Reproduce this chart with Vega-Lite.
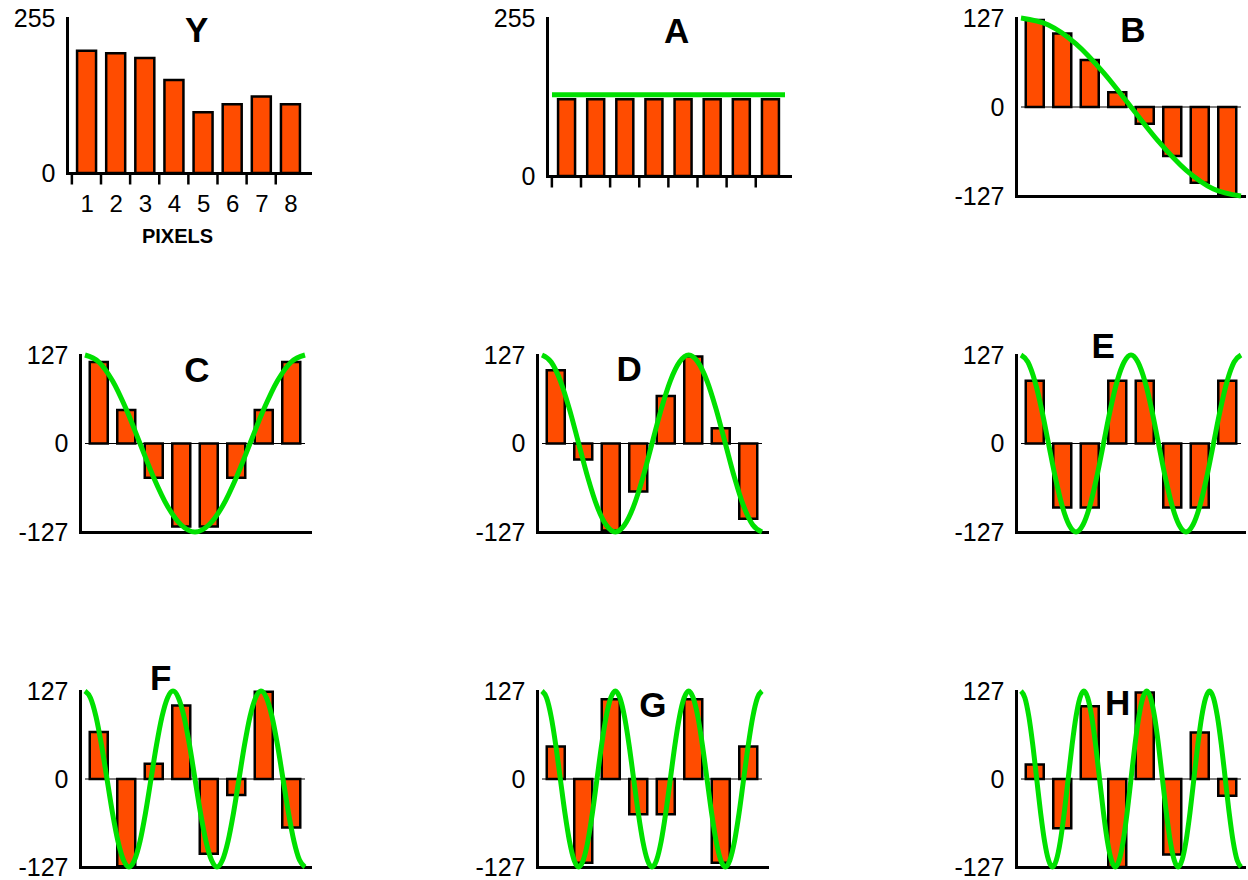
{
"$schema": "https://vega.github.io/schema/vega-lite/v6.json",
"padding": {"left": 13, "top": 6, "right": 0, "bottom": 0},
"background": "white",
"datasets": {
"bars": [
{"p":"Y","px":1,"v":201},{"p":"Y","px":2,"v":197},{"p":"Y","px":3,"v":189},{"p":"Y","px":4,"v":153},{"p":"Y","px":5,"v":100},{"p":"Y","px":6,"v":113},{"p":"Y","px":7,"v":126},{"p":"Y","px":8,"v":113},
{"p":"A","px":1,"v":124},{"p":"A","px":2,"v":124},{"p":"A","px":3,"v":124},{"p":"A","px":4,"v":124},{"p":"A","px":5,"v":124},{"p":"A","px":6,"v":124},{"p":"A","px":7,"v":124},{"p":"A","px":8,"v":124},
{"p":"B","px":1,"v":124},{"p":"B","px":2,"v":105},{"p":"B","px":3,"v":67},{"p":"B","px":4,"v":21},{"p":"B","px":5,"v":-24},{"p":"B","px":6,"v":-70},{"p":"B","px":7,"v":-108},{"p":"B","px":8,"v":-126},
{"p":"C","px":1,"v":117},{"p":"C","px":2,"v":48},{"p":"C","px":3,"v":-49},{"p":"C","px":4,"v":-119},{"p":"C","px":5,"v":-119},{"p":"C","px":6,"v":-49},{"p":"C","px":7,"v":48},{"p":"C","px":8,"v":117},
{"p":"D","px":1,"v":105},{"p":"D","px":2,"v":-23},{"p":"D","px":3,"v":-125},{"p":"D","px":4,"v":-69},{"p":"D","px":5,"v":68},{"p":"D","px":6,"v":125},{"p":"D","px":7,"v":22},{"p":"D","px":8,"v":-108},
{"p":"E","px":1,"v":90},{"p":"E","px":2,"v":-92},{"p":"E","px":3,"v":-92},{"p":"E","px":4,"v":90},{"p":"E","px":5,"v":90},{"p":"E","px":6,"v":-92},{"p":"E","px":7,"v":-92},{"p":"E","px":8,"v":90},
{"p":"F","px":1,"v":68},{"p":"F","px":2,"v":-126},{"p":"F","px":3,"v":22},{"p":"F","px":4,"v":106},{"p":"F","px":5,"v":-108},{"p":"F","px":6,"v":-23},{"p":"F","px":7,"v":126},{"p":"F","px":8,"v":-70},
{"p":"G","px":1,"v":47},{"p":"G","px":2,"v":-121},{"p":"G","px":3,"v":115},{"p":"G","px":4,"v":-51},{"p":"G","px":5,"v":-51},{"p":"G","px":6,"v":115},{"p":"G","px":7,"v":-121},{"p":"G","px":8,"v":47},
{"p":"H","px":1,"v":21},{"p":"H","px":2,"v":-71},{"p":"H","px":3,"v":105},{"p":"H","px":4,"v":-127},{"p":"H","px":5,"v":125},{"p":"H","px":6,"v":-109},{"p":"H","px":7,"v":67},{"p":"H","px":8,"v":-24}
],
"curves": [
{"p":"A","x":0.5,"y":131},{"p":"A","x":8.5,"y":131},
{"p":"B","x":0.5,"y":127},{"p":"B","x":1.5,"y":117},{"p":"B","x":2.5,"y":90},{"p":"B","x":3.5,"y":49},{"p":"B","x":4.5,"y":0},{"p":"B","x":5.5,"y":-49},{"p":"B","x":6.5,"y":-90},{"p":"B","x":7.5,"y":-117},{"p":"B","x":8.5,"y":-127},
{"p":"C","x":0.5,"y":127},{"p":"C","x":1,"y":117},{"p":"C","x":1.5,"y":90},{"p":"C","x":2,"y":49},{"p":"C","x":2.5,"y":0},{"p":"C","x":3,"y":-49},{"p":"C","x":3.5,"y":-90},{"p":"C","x":4,"y":-117},{"p":"C","x":4.5,"y":-127},{"p":"C","x":5,"y":-117},{"p":"C","x":5.5,"y":-90},{"p":"C","x":6,"y":-49},{"p":"C","x":6.5,"y":0},{"p":"C","x":7,"y":49},{"p":"C","x":7.5,"y":90},{"p":"C","x":8,"y":117},{"p":"C","x":8.5,"y":127},
{"p":"D","x":0.5,"y":127},{"p":"D","x":0.833,"y":117},{"p":"D","x":1.167,"y":90},{"p":"D","x":1.5,"y":49},{"p":"D","x":1.833,"y":0},{"p":"D","x":2.167,"y":-49},{"p":"D","x":2.5,"y":-90},{"p":"D","x":2.833,"y":-117},{"p":"D","x":3.167,"y":-127},{"p":"D","x":3.5,"y":-117},{"p":"D","x":3.833,"y":-90},{"p":"D","x":4.167,"y":-49},{"p":"D","x":4.5,"y":0},{"p":"D","x":4.833,"y":49},{"p":"D","x":5.167,"y":90},{"p":"D","x":5.5,"y":117},{"p":"D","x":5.833,"y":127},{"p":"D","x":6.167,"y":117},{"p":"D","x":6.5,"y":90},{"p":"D","x":6.833,"y":49},{"p":"D","x":7.167,"y":0},{"p":"D","x":7.5,"y":-49},{"p":"D","x":7.833,"y":-90},{"p":"D","x":8.167,"y":-117},{"p":"D","x":8.5,"y":-127},
{"p":"E","x":0.5,"y":127},{"p":"E","x":0.75,"y":117},{"p":"E","x":1,"y":90},{"p":"E","x":1.25,"y":49},{"p":"E","x":1.5,"y":0},{"p":"E","x":1.75,"y":-49},{"p":"E","x":2,"y":-90},{"p":"E","x":2.25,"y":-117},{"p":"E","x":2.5,"y":-127},{"p":"E","x":2.75,"y":-117},{"p":"E","x":3,"y":-90},{"p":"E","x":3.25,"y":-49},{"p":"E","x":3.5,"y":0},{"p":"E","x":3.75,"y":49},{"p":"E","x":4,"y":90},{"p":"E","x":4.25,"y":117},{"p":"E","x":4.5,"y":127},{"p":"E","x":4.75,"y":117},{"p":"E","x":5,"y":90},{"p":"E","x":5.25,"y":49},{"p":"E","x":5.5,"y":0},{"p":"E","x":5.75,"y":-49},{"p":"E","x":6,"y":-90},{"p":"E","x":6.25,"y":-117},{"p":"E","x":6.5,"y":-127},{"p":"E","x":6.75,"y":-117},{"p":"E","x":7,"y":-90},{"p":"E","x":7.25,"y":-49},{"p":"E","x":7.5,"y":0},{"p":"E","x":7.75,"y":49},{"p":"E","x":8,"y":90},{"p":"E","x":8.25,"y":117},{"p":"E","x":8.5,"y":127},
{"p":"F","x":0.5,"y":127},{"p":"F","x":0.7,"y":117},{"p":"F","x":0.9,"y":90},{"p":"F","x":1.1,"y":49},{"p":"F","x":1.3,"y":0},{"p":"F","x":1.5,"y":-49},{"p":"F","x":1.7,"y":-90},{"p":"F","x":1.9,"y":-117},{"p":"F","x":2.1,"y":-127},{"p":"F","x":2.3,"y":-117},{"p":"F","x":2.5,"y":-90},{"p":"F","x":2.7,"y":-49},{"p":"F","x":2.9,"y":0},{"p":"F","x":3.1,"y":49},{"p":"F","x":3.3,"y":90},{"p":"F","x":3.5,"y":117},{"p":"F","x":3.7,"y":127},{"p":"F","x":3.9,"y":117},{"p":"F","x":4.1,"y":90},{"p":"F","x":4.3,"y":49},{"p":"F","x":4.5,"y":0},{"p":"F","x":4.7,"y":-49},{"p":"F","x":4.9,"y":-90},{"p":"F","x":5.1,"y":-117},{"p":"F","x":5.3,"y":-127},{"p":"F","x":5.5,"y":-117},{"p":"F","x":5.7,"y":-90},{"p":"F","x":5.9,"y":-49},{"p":"F","x":6.1,"y":0},{"p":"F","x":6.3,"y":49},{"p":"F","x":6.5,"y":90},{"p":"F","x":6.7,"y":117},{"p":"F","x":6.9,"y":127},{"p":"F","x":7.1,"y":117},{"p":"F","x":7.3,"y":90},{"p":"F","x":7.5,"y":49},{"p":"F","x":7.7,"y":0},{"p":"F","x":7.9,"y":-49},{"p":"F","x":8.1,"y":-90},{"p":"F","x":8.3,"y":-117},{"p":"F","x":8.5,"y":-127},
{"p":"G","x":0.5,"y":127},{"p":"G","x":0.667,"y":117},{"p":"G","x":0.833,"y":90},{"p":"G","x":1,"y":49},{"p":"G","x":1.167,"y":0},{"p":"G","x":1.333,"y":-49},{"p":"G","x":1.5,"y":-90},{"p":"G","x":1.667,"y":-117},{"p":"G","x":1.833,"y":-127},{"p":"G","x":2,"y":-117},{"p":"G","x":2.167,"y":-90},{"p":"G","x":2.333,"y":-49},{"p":"G","x":2.5,"y":0},{"p":"G","x":2.667,"y":49},{"p":"G","x":2.833,"y":90},{"p":"G","x":3,"y":117},{"p":"G","x":3.167,"y":127},{"p":"G","x":3.333,"y":117},{"p":"G","x":3.5,"y":90},{"p":"G","x":3.667,"y":49},{"p":"G","x":3.833,"y":0},{"p":"G","x":4,"y":-49},{"p":"G","x":4.167,"y":-90},{"p":"G","x":4.333,"y":-117},{"p":"G","x":4.5,"y":-127},{"p":"G","x":4.667,"y":-117},{"p":"G","x":4.833,"y":-90},{"p":"G","x":5,"y":-49},{"p":"G","x":5.167,"y":0},{"p":"G","x":5.333,"y":49},{"p":"G","x":5.5,"y":90},{"p":"G","x":5.667,"y":117},{"p":"G","x":5.833,"y":127},{"p":"G","x":6,"y":117},{"p":"G","x":6.167,"y":90},{"p":"G","x":6.333,"y":49},{"p":"G","x":6.5,"y":0},{"p":"G","x":6.667,"y":-49},{"p":"G","x":6.833,"y":-90},{"p":"G","x":7,"y":-117},{"p":"G","x":7.167,"y":-127},{"p":"G","x":7.333,"y":-117},{"p":"G","x":7.5,"y":-90},{"p":"G","x":7.667,"y":-49},{"p":"G","x":7.833,"y":0},{"p":"G","x":8,"y":49},{"p":"G","x":8.167,"y":90},{"p":"G","x":8.333,"y":117},{"p":"G","x":8.5,"y":127},
{"p":"H","x":0.5,"y":127},{"p":"H","x":0.643,"y":117},{"p":"H","x":0.786,"y":90},{"p":"H","x":0.929,"y":49},{"p":"H","x":1.071,"y":0},{"p":"H","x":1.214,"y":-49},{"p":"H","x":1.357,"y":-90},{"p":"H","x":1.5,"y":-117},{"p":"H","x":1.643,"y":-127},{"p":"H","x":1.786,"y":-117},{"p":"H","x":1.929,"y":-90},{"p":"H","x":2.071,"y":-49},{"p":"H","x":2.214,"y":0},{"p":"H","x":2.357,"y":49},{"p":"H","x":2.5,"y":90},{"p":"H","x":2.643,"y":117},{"p":"H","x":2.786,"y":127},{"p":"H","x":2.929,"y":117},{"p":"H","x":3.071,"y":90},{"p":"H","x":3.214,"y":49},{"p":"H","x":3.357,"y":0},{"p":"H","x":3.5,"y":-49},{"p":"H","x":3.643,"y":-90},{"p":"H","x":3.786,"y":-117},{"p":"H","x":3.929,"y":-127},{"p":"H","x":4.071,"y":-117},{"p":"H","x":4.214,"y":-90},{"p":"H","x":4.357,"y":-49},{"p":"H","x":4.5,"y":0},{"p":"H","x":4.643,"y":49},{"p":"H","x":4.786,"y":90},{"p":"H","x":4.929,"y":117},{"p":"H","x":5.071,"y":127},{"p":"H","x":5.214,"y":117},{"p":"H","x":5.357,"y":90},{"p":"H","x":5.5,"y":49},{"p":"H","x":5.643,"y":0},{"p":"H","x":5.786,"y":-49},{"p":"H","x":5.929,"y":-90},{"p":"H","x":6.071,"y":-117},{"p":"H","x":6.214,"y":-127},{"p":"H","x":6.357,"y":-117},{"p":"H","x":6.5,"y":-90},{"p":"H","x":6.643,"y":-49},{"p":"H","x":6.786,"y":0},{"p":"H","x":6.929,"y":49},{"p":"H","x":7.071,"y":90},{"p":"H","x":7.214,"y":117},{"p":"H","x":7.357,"y":127},{"p":"H","x":7.5,"y":117},{"p":"H","x":7.643,"y":90},{"p":"H","x":7.786,"y":49},{"p":"H","x":7.929,"y":0},{"p":"H","x":8.071,"y":-49},{"p":"H","x":8.214,"y":-90},{"p":"H","x":8.357,"y":-117},{"p":"H","x":8.5,"y":-127}
]
},
"columns": 3,
"spacing": {"row": 159, "column": 227},
"bounds": "flush",
"align": "each",
"concat": [
{
 "width": 230, "height": 155,
 "layer": [
  {"data": {"name": "bars"}, "transform": [{"filter": "datum.p === 'Y'"}],
   "mark": {"type": "bar", "size": 19, "fill": "#ff4c00", "stroke": "black", "strokeWidth": 2.5},
   "encoding": {
    "x": {"field": "px", "type": "quantitative", "scale": {"domain": [0.5, 8.5], "range": [-13, 230], "nice": false, "zero": false},
          "axis": {"values": [1,2,3,4,5,6,7,8], "tickCount": 10, "ticks": true, "tickSize": 11, "tickWidth": 2.5, "tickColor": "black", "tickOffset": -15.19, "tickRound": false, "labelOffset": 15.19, "labelFontSize": 24, "labelPadding": 8, "labelFlush": false, "labelOverlap": false, "title": "PIXELS", "titleX": 97, "titleFont": "Liberation Sans", "titleFontSize": 20, "titleFontWeight": "bold", "titlePadding": 10}},
    "y": {"field": "v", "type": "quantitative", "title": null, "scale": {"domain": [0, 255], "nice": false}, "axis": {"values": [0, 255], "offset": 13}}
   }},
  {"data": {"values": [{}]}, "mark": {"type": "text", "text": "Y", "font": "Liberation Sans", "fontWeight": "bold", "fontSize": 35, "fill": "black"},
   "encoding": {"x": {"datum": 4.78, "title": null}, "y": {"datum": 233, "title": null}}}
 ]
},
{
 "width": 252, "height": 158,
 "layer": [
  {"data": {"name": "bars"}, "transform": [{"filter": "datum.p === 'A'"}],
   "mark": {"type": "bar", "size": 17, "fill": "#ff4c00", "stroke": "black", "strokeWidth": 2.5},
   "encoding": {
    "x": {"field": "px", "type": "quantitative", "title": null, "scale": {"domain": [0.5, 8.5], "range": [10, 253], "nice": false, "zero": false},
          "axis": {"values": [1,2,3,4,5,6,7,8], "tickCount": 10, "ticks": true, "tickSize": 11, "tickWidth": 2.5, "tickColor": "black", "tickOffset": -15.19, "tickRound": false, "labels": false}},
    "y": {"field": "v", "type": "quantitative", "title": null, "scale": {"domain": [0, 255], "nice": false}, "axis": {"values": [0, 255], "offset": -10}}
   }},
  {"data": {"name": "curves"}, "transform": [{"filter": "datum.p === 'A'"}],
   "mark": {"type": "line", "stroke": "#00e000", "strokeWidth": 5},
   "encoding": {"x": {"field": "x", "type": "quantitative", "title": null}, "y": {"field": "y", "type": "quantitative", "title": null}}},
  {"data": {"values": [{}]}, "mark": {"type": "text", "text": "A", "font": "Liberation Sans", "fontWeight": "bold", "fontSize": 35, "fill": "black"},
   "encoding": {"x": {"datum": 4.78, "title": null}, "y": {"datum": 232, "title": null}}}
 ]
},
{
 "width": 230, "height": 178,
 "layer": [
  {"data": {"name": "bars"}, "transform": [{"filter": "datum.p === 'B'"}],
   "mark": {"type": "bar", "size": 18, "fill": "#ff4c00", "stroke": "black", "strokeWidth": 2.5},
   "encoding": {
    "x": {"field": "px", "type": "quantitative", "title": null, "scale": {"domain": [0.5, 8.5], "nice": false, "zero": false}, "axis": {"labels": false, "ticks": false}},
    "y": {"field": "v", "type": "quantitative", "title": null, "scale": {"domain": [-127, 127], "nice": false}, "axis": {"values": [-127, 0, 127], "labelExpr": "datum.value < 0 ? '-' + (-datum.value) : '' + datum.value"}}
   }},
  {"data": {"values": [{}]}, "mark": {"type": "rule", "stroke": "black", "strokeWidth": 1},
   "encoding": {"x": {"datum": 0.5, "title": null}, "x2": {"datum": 8.5}, "y": {"datum": 0, "title": null}}},
  {"data": {"name": "curves"}, "transform": [{"filter": "datum.p === 'B'"}],
   "mark": {"type": "line", "interpolate": "monotone", "stroke": "#00e000", "strokeWidth": 5, "strokeJoin": "round"},
   "encoding": {"x": {"field": "x", "type": "quantitative", "title": null}, "y": {"field": "y", "type": "quantitative", "title": null}}},
  {"data": {"values": [{}]}, "mark": {"type": "text", "text": "B", "font": "Liberation Sans", "fontWeight": "bold", "fontSize": 35, "fill": "black"},
   "encoding": {"x": {"datum": 4.57, "title": null}, "y": {"datum": 108, "title": null}}}
 ]
},
{
 "width": 230, "height": 177,
 "layer": [
  {"data": {"name": "bars"}, "transform": [{"filter": "datum.p === 'C'"}],
   "mark": {"type": "bar", "size": 18, "fill": "#ff4c00", "stroke": "black", "strokeWidth": 2.5},
   "encoding": {
    "x": {"field": "px", "type": "quantitative", "title": null, "scale": {"domain": [0.5, 8.5], "nice": false, "zero": false}, "axis": {"labels": false, "ticks": false}},
    "y": {"field": "v", "type": "quantitative", "title": null, "scale": {"domain": [-127, 127], "nice": false}, "axis": {"values": [-127, 0, 127], "labelExpr": "datum.value < 0 ? '-' + (-datum.value) : '' + datum.value"}}
   }},
  {"data": {"values": [{}]}, "mark": {"type": "rule", "stroke": "black", "strokeWidth": 1},
   "encoding": {"x": {"datum": 0.5, "title": null}, "x2": {"datum": 8.5}, "y": {"datum": 0, "title": null}}},
  {"data": {"name": "curves"}, "transform": [{"filter": "datum.p === 'C'"}],
   "mark": {"type": "line", "interpolate": "monotone", "stroke": "#00e000", "strokeWidth": 5, "strokeJoin": "round"},
   "encoding": {"x": {"field": "x", "type": "quantitative", "title": null}, "y": {"field": "y", "type": "quantitative", "title": null}}},
  {"data": {"values": [{}]}, "mark": {"type": "text", "text": "C", "font": "Liberation Sans", "fontWeight": "bold", "fontSize": 35, "fill": "black"},
   "encoding": {"x": {"datum": 4.57, "title": null}, "y": {"datum": 104, "title": null}}}
 ]
},
{
 "width": 252, "height": 177,
 "layer": [
  {"data": {"name": "bars"}, "transform": [{"filter": "datum.p === 'D'"}],
   "mark": {"type": "bar", "size": 18, "fill": "#ff4c00", "stroke": "black", "strokeWidth": 2.5},
   "encoding": {
    "x": {"field": "px", "type": "quantitative", "title": null, "scale": {"domain": [0.5, 8.5], "range": [0, 230], "nice": false, "zero": false}, "axis": {"labels": false, "ticks": false}},
    "y": {"field": "v", "type": "quantitative", "title": null, "scale": {"domain": [-127, 127], "nice": false}, "axis": {"values": [-127, 0, 127], "labelExpr": "datum.value < 0 ? '-' + (-datum.value) : '' + datum.value"}}
   }},
  {"data": {"values": [{}]}, "mark": {"type": "rule", "stroke": "black", "strokeWidth": 1},
   "encoding": {"x": {"datum": 0.5, "title": null}, "x2": {"datum": 8.5}, "y": {"datum": 0, "title": null}}},
  {"data": {"name": "curves"}, "transform": [{"filter": "datum.p === 'D'"}],
   "mark": {"type": "line", "interpolate": "monotone", "stroke": "#00e000", "strokeWidth": 5, "strokeJoin": "round"},
   "encoding": {"x": {"field": "x", "type": "quantitative", "title": null}, "y": {"field": "y", "type": "quantitative", "title": null}}},
  {"data": {"values": [{}]}, "mark": {"type": "text", "text": "D", "font": "Liberation Sans", "fontWeight": "bold", "fontSize": 35, "fill": "black"},
   "encoding": {"x": {"datum": 3.67, "title": null}, "y": {"datum": 105, "title": null}}}
 ]
},
{
 "width": 230, "height": 177,
 "layer": [
  {"data": {"name": "bars"}, "transform": [{"filter": "datum.p === 'E'"}],
   "mark": {"type": "bar", "size": 18, "fill": "#ff4c00", "stroke": "black", "strokeWidth": 2.5},
   "encoding": {
    "x": {"field": "px", "type": "quantitative", "title": null, "scale": {"domain": [0.5, 8.5], "nice": false, "zero": false}, "axis": {"labels": false, "ticks": false}},
    "y": {"field": "v", "type": "quantitative", "title": null, "scale": {"domain": [-127, 127], "nice": false}, "axis": {"values": [-127, 0, 127], "labelExpr": "datum.value < 0 ? '-' + (-datum.value) : '' + datum.value"}}
   }},
  {"data": {"values": [{}]}, "mark": {"type": "rule", "stroke": "black", "strokeWidth": 1},
   "encoding": {"x": {"datum": 0.5, "title": null}, "x2": {"datum": 8.5}, "y": {"datum": 0, "title": null}}},
  {"data": {"name": "curves"}, "transform": [{"filter": "datum.p === 'E'"}],
   "mark": {"type": "line", "interpolate": "monotone", "stroke": "#00e000", "strokeWidth": 5, "strokeJoin": "round"},
   "encoding": {"x": {"field": "x", "type": "quantitative", "title": null}, "y": {"field": "y", "type": "quantitative", "title": null}}},
  {"data": {"values": [{}]}, "mark": {"type": "text", "text": "E", "font": "Liberation Sans", "fontWeight": "bold", "fontSize": 35, "fill": "black"},
   "encoding": {"x": {"datum": 3.49, "title": null}, "y": {"datum": 139, "title": null}}}
 ]
},
{
 "width": 230, "height": 176,
 "layer": [
  {"data": {"name": "bars"}, "transform": [{"filter": "datum.p === 'F'"}],
   "mark": {"type": "bar", "size": 18, "fill": "#ff4c00", "stroke": "black", "strokeWidth": 2.5},
   "encoding": {
    "x": {"field": "px", "type": "quantitative", "title": null, "scale": {"domain": [0.5, 8.5], "nice": false, "zero": false}, "axis": {"labels": false, "ticks": false}},
    "y": {"field": "v", "type": "quantitative", "title": null, "scale": {"domain": [-127, 127], "nice": false}, "axis": {"values": [-127, 0, 127], "labelExpr": "datum.value < 0 ? '-' + (-datum.value) : '' + datum.value"}}
   }},
  {"data": {"values": [{}]}, "mark": {"type": "rule", "stroke": "black", "strokeWidth": 1},
   "encoding": {"x": {"datum": 0.5, "title": null}, "x2": {"datum": 8.5}, "y": {"datum": 0, "title": null}}},
  {"data": {"name": "curves"}, "transform": [{"filter": "datum.p === 'F'"}],
   "mark": {"type": "line", "interpolate": "monotone", "stroke": "#00e000", "strokeWidth": 5, "strokeJoin": "round"},
   "encoding": {"x": {"field": "x", "type": "quantitative", "title": null}, "y": {"field": "y", "type": "quantitative", "title": null}}},
  {"data": {"values": [{}]}, "mark": {"type": "text", "text": "F", "font": "Liberation Sans", "fontWeight": "bold", "fontSize": 35, "fill": "black"},
   "encoding": {"x": {"datum": 3.25, "title": null}, "y": {"datum": 144, "title": null}}}
 ]
},
{
 "width": 252, "height": 176,
 "layer": [
  {"data": {"name": "bars"}, "transform": [{"filter": "datum.p === 'G'"}],
   "mark": {"type": "bar", "size": 18, "fill": "#ff4c00", "stroke": "black", "strokeWidth": 2.5},
   "encoding": {
    "x": {"field": "px", "type": "quantitative", "title": null, "scale": {"domain": [0.5, 8.5], "range": [0, 230], "nice": false, "zero": false}, "axis": {"labels": false, "ticks": false}},
    "y": {"field": "v", "type": "quantitative", "title": null, "scale": {"domain": [-127, 127], "nice": false}, "axis": {"values": [-127, 0, 127], "labelExpr": "datum.value < 0 ? '-' + (-datum.value) : '' + datum.value"}}
   }},
  {"data": {"values": [{}]}, "mark": {"type": "rule", "stroke": "black", "strokeWidth": 1},
   "encoding": {"x": {"datum": 0.5, "title": null}, "x2": {"datum": 8.5}, "y": {"datum": 0, "title": null}}},
  {"data": {"name": "curves"}, "transform": [{"filter": "datum.p === 'G'"}],
   "mark": {"type": "line", "interpolate": "monotone", "stroke": "#00e000", "strokeWidth": 5, "strokeJoin": "round"},
   "encoding": {"x": {"field": "x", "type": "quantitative", "title": null}, "y": {"field": "y", "type": "quantitative", "title": null}}},
  {"data": {"values": [{}]}, "mark": {"type": "text", "text": "G", "font": "Liberation Sans", "fontWeight": "bold", "fontSize": 35, "fill": "black"},
   "encoding": {"x": {"datum": 4.53, "title": null}, "y": {"datum": 105, "title": null}}}
 ]
},
{
 "width": 230, "height": 176,
 "layer": [
  {"data": {"name": "bars"}, "transform": [{"filter": "datum.p === 'H'"}],
   "mark": {"type": "bar", "size": 18, "fill": "#ff4c00", "stroke": "black", "strokeWidth": 2.5},
   "encoding": {
    "x": {"field": "px", "type": "quantitative", "title": null, "scale": {"domain": [0.5, 8.5], "nice": false, "zero": false}, "axis": {"labels": false, "ticks": false}},
    "y": {"field": "v", "type": "quantitative", "title": null, "scale": {"domain": [-127, 127], "nice": false}, "axis": {"values": [-127, 0, 127], "labelExpr": "datum.value < 0 ? '-' + (-datum.value) : '' + datum.value"}}
   }},
  {"data": {"values": [{}]}, "mark": {"type": "rule", "stroke": "black", "strokeWidth": 1},
   "encoding": {"x": {"datum": 0.5, "title": null}, "x2": {"datum": 8.5}, "y": {"datum": 0, "title": null}}},
  {"data": {"name": "curves"}, "transform": [{"filter": "datum.p === 'H'"}],
   "mark": {"type": "line", "interpolate": "monotone", "stroke": "#00e000", "strokeWidth": 5, "strokeJoin": "round"},
   "encoding": {"x": {"field": "x", "type": "quantitative", "title": null}, "y": {"field": "y", "type": "quantitative", "title": null}}},
  {"data": {"values": [{}]}, "mark": {"type": "text", "text": "H", "font": "Liberation Sans", "fontWeight": "bold", "fontSize": 35, "fill": "black"},
   "encoding": {"x": {"datum": 4.01, "title": null}, "y": {"datum": 108, "title": null}}}
 ]
}
],
"config": {
 "view": {"stroke": null},
 "font": "Liberation Sans",
 "axis": {"domainColor": "black", "domainWidth": 3, "domainCap": "square", "grid": false, "ticks": false, "tickSize": 0, "labelFont": "Liberation Sans", "labelFontSize": 25, "labelColor": "black", "labelPadding": 12, "labelFlush": false, "titleColor": "black"}
}
}
